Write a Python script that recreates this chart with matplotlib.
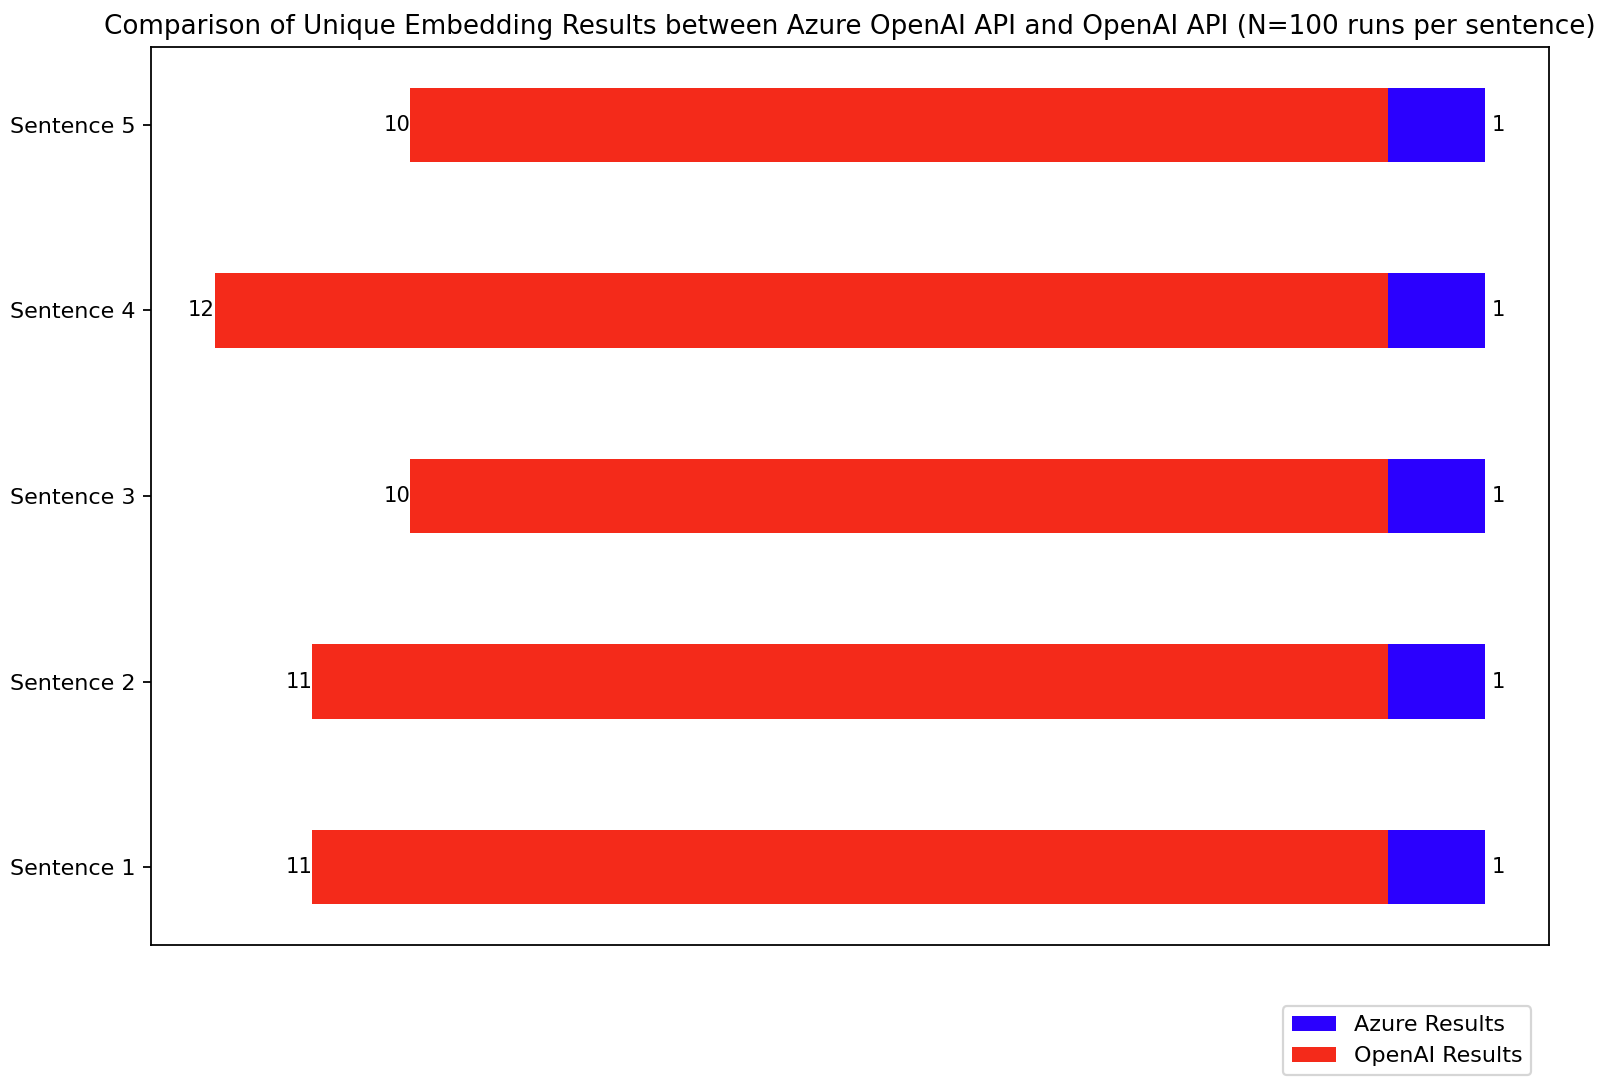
import matplotlib.pyplot as plt
import numpy as np

sentences = ['Sentence 1', 'Sentence 2', 'Sentence 3', 'Sentence 4', 'Sentence 5']
azure_unique = [1, 1, 1, 1, 1]
openai_unique = [11, 11, 10, 12, 10]

azure_color = '#2b00fe'
openai_color = '#f42a1a'

fig = plt.figure(figsize=(10, 6.75), dpi=160)
ax = fig.add_axes([0.0944, 0.125, 0.8736, 0.8315])

y = np.arange(len(sentences))
bars_azure = ax.barh(y, azure_unique, height=0.4, color=azure_color, label='Azure Results')
bars_openai = ax.barh(y, [-v for v in openai_unique], height=0.4, color=openai_color,
                      label='OpenAI Results')

ax.bar_label(bars_azure, labels=[str(v) for v in azure_unique], padding=3, fontsize=9.5)
ax.bar_label(bars_openai, labels=[str(v) for v in openai_unique], padding=0, fontsize=9.5)

ax.set_yticks(y)
ax.set_yticklabels(sentences, fontsize=10)
ax.set_xticks([])
ax.set_title('Comparison of Unique Embedding Results between Azure OpenAI API and OpenAI API '
             '(N=100 runs per sentence)', fontsize=11.8, x=0.5)

fig.legend(loc='lower right', bbox_to_anchor=(0.964, -0.006), fontsize=10)

fig.savefig('out.png', dpi=160)
